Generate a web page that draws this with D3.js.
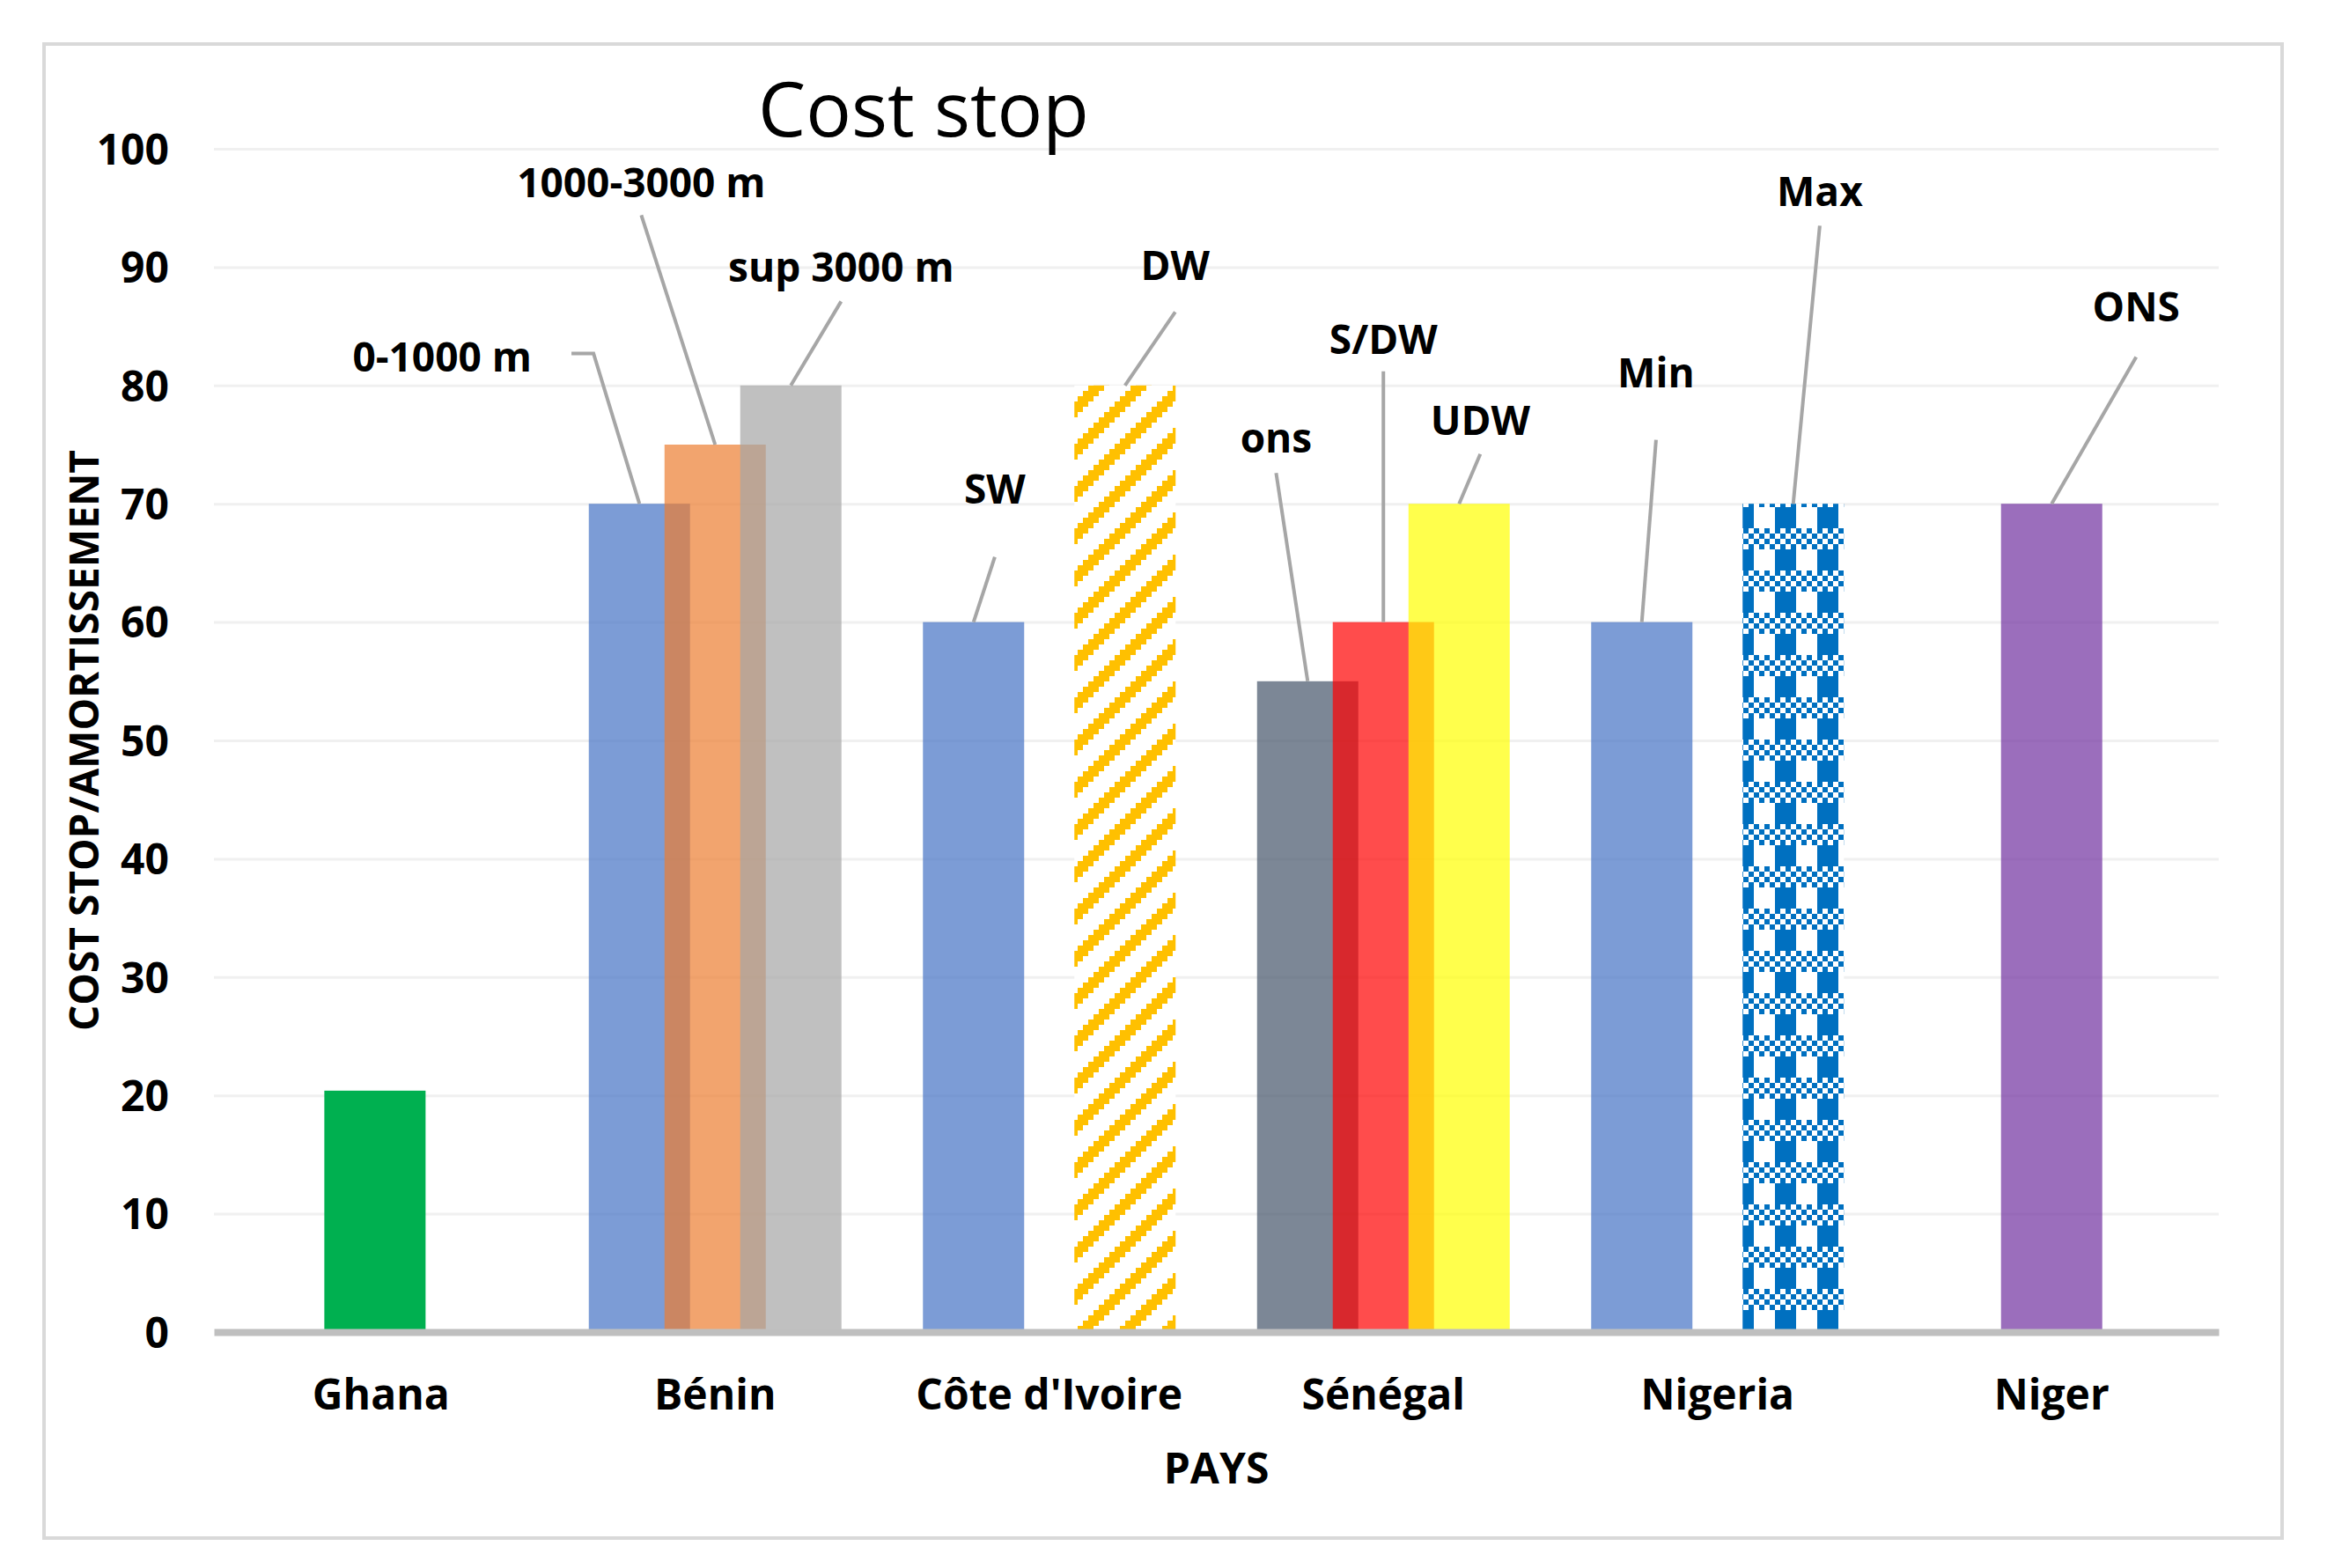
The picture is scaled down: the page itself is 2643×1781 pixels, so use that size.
<!DOCTYPE html>
<html>
<head>
<meta charset="utf-8">
<title>Cost stop</title>
<script src="https://cdn.jsdelivr.net/npm/d3@7/dist/d3.min.js"></script>
<style>
  body { margin: 0; background: #fff; }
  text { font-family: "Open Sans", "Liberation Sans", sans-serif; fill: #000; }
</style>
</head>
<body>
<script>
var width = 2643, height = 1781;

// data
var categories = ["Ghana", "Bénin", "Côte d'Ivoire", "Sénégal", "Nigeria", "Niger"];
var yTicks = [0, 10, 20, 30, 40, 50, 60, 70, 80, 90, 100];
var barCountry = ["Ghana", "Bénin", "Bénin", "Bénin", "Côte d'Ivoire", "Côte d'Ivoire",
                  "Sénégal", "Sénégal", "Sénégal", "Nigeria", "Nigeria", "Niger"];
var barSlot = [0, -1, 0, 1, -1, 1, -1, 0, 1, -1, 1, 0];
var barValues = [20.4, 70, 75, 80, 60, 80, 55, 60, 70, 60, 70, 70];
var barLabels = [null, "0-1000 m", "1000-3000 m", "sup 3000 m", "SW", "DW",
                 "ons", "S/DW", "UDW", "Min", "Max", "ONS"];

// styling, one entry per bar
var barFills = ["#00b050", "#4472c4", "#ed7d31", "#a5a5a5", "#4472c4", "url(#hatch)",
                "#44546a", "#ff0000", "#ffff00", "#4472c4", "url(#plaid)", "#7030a0"];
var barAlpha = [1, 0.7, 0.7, 0.7, 0.7, 1, 0.7, 0.7, 0.7, 0.7, 1, 0.7];
var barNudge = [-0.08, 0, 0, 0, 0, 0, 0, 0, 0, 0, 0, 0];

// label placement: dx in band widths from the category centre, y values in data units
var labelLayout = {
  "0-1000 m":    {dx: -0.817, y: 81.2, lx: -0.364, ly: 82.7, elbow: -0.43},
  "1000-3000 m": {dx: -0.221, y: 95.9, ly: 94.4},
  "sup 3000 m":  {dx: 0.377,  y: 88.8, ly: 87.1},
  "SW":          {dx: -0.163, y: 70.0, ly: 65.5},
  "DW":          {dx: 0.377,  y: 88.9, ly: 86.2},
  "ons":         {dx: -0.321, y: 74.3, ly: 72.6},
  "S/DW":        {dx: 0.0,    y: 82.7, ly: 81.2},
  "UDW":         {dx: 0.29,   y: 75.8, ly: 74.2},
  "Min":         {dx: -0.184, y: 79.8, ly: 75.4},
  "Max":         {dx: 0.306,  y: 95.2, ly: 93.5},
  "ONS":         {dx: 0.253,  y: 85.4, ly: 82.4}
};

var plotLeft = 243, plotRight = 2520, plotTop = 169, plotBottom = 1513;

var svg = d3.select("body").append("svg")
    .attr("width", width)
    .attr("height", height);

// fill patterns (Excel style pixel patterns)
var defs = svg.append("defs");
var u = 6;
var hatch = defs.append("pattern")
    .attr("id", "hatch")
    .attr("patternUnits", "userSpaceOnUse")
    .attr("width", 8 * u).attr("height", 8 * u);
hatch.append("rect").attr("width", 8 * u).attr("height", 8 * u).attr("fill", "#fff");
var plaid = defs.append("pattern")
    .attr("id", "plaid")
    .attr("patternUnits", "userSpaceOnUse")
    .attr("width", 8 * u).attr("height", 8 * u);
plaid.append("rect").attr("width", 8 * u).attr("height", 8 * u).attr("fill", "#fff");
var hatchCells = [], plaidCells = [];
for (var r = 0; r < 8; r++) {
  for (var k = 0; k < 3; k++) hatchCells.push([(7 - r + k + 8) % 8, r]);
  for (var c = 0; c < 8; c++) {
    if (r < 4 ? c < 4 : (r + c) % 2 == 0) plaidCells.push([c, r]);
  }
}
hatch.selectAll("rect.c").data(hatchCells).enter().append("rect")
    .attr("class", "c")
    .attr("x", function(d) { return d[0] * u; })
    .attr("y", function(d) { return d[1] * u; })
    .attr("width", u).attr("height", u)
    .attr("fill", "#ffc000")
    .attr("shape-rendering", "crispEdges");
plaid.selectAll("rect.c").data(plaidCells).enter().append("rect")
    .attr("class", "c")
    .attr("x", function(d) { return d[0] * u; })
    .attr("y", function(d) { return d[1] * u; })
    .attr("width", u).attr("height", u)
    .attr("fill", "#0070c0")
    .attr("shape-rendering", "crispEdges");

// chart border
svg.append("rect")
    .attr("x", 50).attr("y", 50)
    .attr("width", 2542).attr("height", 1697)
    .attr("fill", "none")
    .attr("stroke", "#d9d9d9")
    .attr("stroke-width", 4);

var x = d3.scaleBand()
    .domain(categories)
    .range([plotLeft, plotRight]);

var y = d3.scaleLinear()
    .domain([0, 100])
    .range([plotBottom, plotTop]);

var bw = x.bandwidth();
var slotStep = 0.2266 * bw;
var barW = 0.303 * bw;

function barCenter(i) {
  return x(barCountry[i]) + bw / 2 + (barSlot[i] + barNudge[i]) * slotStep;
}

// y axis with gridlines
var yAxis = svg.append("g")
    .attr("transform", "translate(" + plotLeft + ",0)")
    .call(d3.axisLeft(y).tickValues(yTicks).tickSize(-(plotRight - plotLeft)).tickPadding(51));
yAxis.select(".domain").remove();
yAxis.selectAll(".tick line")
    .attr("stroke", "#f0f0f0")
    .attr("stroke-width", 3)
    .attr("opacity", function(d) { return d == 0 ? 0 : 1; });
yAxis.selectAll(".tick text")
    .attr("dy", "0.36em")
    .style("font-size", "48px")
    .style("font-weight", "bold")
    .style("font-family", "'Open Sans', sans-serif");

// bars
var bars = d3.range(barValues.length);
svg.selectAll("rect.bar")
    .data(bars)
    .enter()
  .append("rect")
    .attr("class", "bar")
    .attr("x", function(i) { return barCenter(i) - barW / 2; })
    .attr("y", function(i) { return y(barValues[i]); })
    .attr("width", barW)
    .attr("height", function(i) { return y(0) - y(barValues[i]); })
    .attr("fill", function(i) { return barFills[i]; })
    .attr("fill-opacity", function(i) { return barAlpha[i]; });

// x axis
var xAxis = svg.append("g")
    .attr("transform", "translate(0," + plotBottom + ")")
    .call(d3.axisBottom(x).tickSize(0));
xAxis.select(".domain")
    .attr("stroke", "#bfbfbf")
    .attr("stroke-width", 8);
xAxis.selectAll(".tick text")
    .attr("y", 88)
    .attr("dy", 0)
    .style("font-size", "48px")
    .style("font-weight", "bold")
    .style("font-family", "'Open Sans', sans-serif");

// leader lines and data labels
var labelled = bars.filter(function(i) { return barLabels[i] != null; });
var line = d3.line();
svg.selectAll("path.leader")
    .data(labelled)
    .enter()
  .append("path")
    .attr("class", "leader")
    .attr("fill", "none")
    .attr("stroke", "#a6a6a6")
    .attr("stroke-width", 4)
    .attr("d", function(i) {
      var L = labelLayout[barLabels[i]];
      var cx = x(barCountry[i]) + bw / 2;
      var pts = [];
      if (L.elbow != null) pts.push([cx + L.elbow * bw, y(L.ly)]);
      pts.push([cx + (L.lx != null ? L.lx : L.dx) * bw, y(L.ly)]);
      pts.push([barCenter(i), y(barValues[i])]);
      return line(pts);
    });

svg.selectAll("text.label")
    .data(labelled)
    .enter()
  .append("text")
    .attr("class", "label")
    .attr("x", function(i) { return x(barCountry[i]) + bw / 2 + labelLayout[barLabels[i]].dx * bw; })
    .attr("y", function(i) { return y(labelLayout[barLabels[i]].y); })
    .attr("text-anchor", "middle")
    .style("font-size", "46px")
    .style("font-weight", "bold")
    .text(function(i) { return barLabels[i]; });

// titles
svg.append("text")
    .attr("x", 1049).attr("y", 155)
    .attr("text-anchor", "middle")
    .style("font-size", "86px")
    .style("font-weight", 400)
    .text("Cost stop");

svg.append("text")
    .attr("transform", "translate(112," + ((plotTop + plotBottom) / 2) + ") rotate(-90)")
    .attr("text-anchor", "middle")
    .style("font-size", "46px")
    .style("font-weight", "bold")
    .text("COST STOP/AMORTISSEMENT");

svg.append("text")
    .attr("x", (plotLeft + plotRight) / 2).attr("y", 1685)
    .attr("text-anchor", "middle")
    .style("font-size", "48px")
    .style("font-weight", "bold")
    .text("PAYS");
</script>
</body>
</html>
